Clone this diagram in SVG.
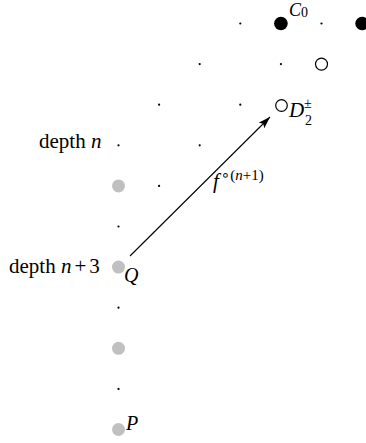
<svg xmlns="http://www.w3.org/2000/svg" width="366" height="443" viewBox="0 0 366 443">
<style>
.t{font-family:"Liberation Serif","DejaVu Serif",serif;fill:#000}
.i{font-style:italic}
.dot{fill:#000}
.blk{fill:#000}
.gry{fill:#c0c0c0}
.opn{fill:#fff;stroke:#000;stroke-width:1.2}
.ln{stroke:#000;stroke-width:1.1;fill:none}
</style>
<defs>
<marker id="ah" viewBox="0 0 12 8" refX="12" refY="4" markerWidth="12" markerHeight="8" markerUnits="userSpaceOnUse" orient="auto">
<path d="M0,0 L12,4 L0,8 L2.5,4 Z" fill="#000"/>
</marker>
</defs>
<rect width="366" height="443" fill="#fff"/>
<g id="dots">
<circle class="dot" cx="240.3" cy="23.5" r="1.1"/>
<circle class="dot" cx="321.5" cy="23.5" r="1.1"/>
<circle class="dot" cx="199.7" cy="64.1" r="1.1"/>
<circle class="dot" cx="280.9" cy="64.1" r="1.1"/>
<circle class="dot" cx="159.1" cy="104.7" r="1.1"/>
<circle class="dot" cx="240.3" cy="104.7" r="1.1"/>
<circle class="dot" cx="118.5" cy="145.3" r="1.1"/>
<circle class="dot" cx="199.7" cy="145.3" r="1.1"/>
<circle class="dot" cx="159.1" cy="185.9" r="1.1"/>
<circle class="dot" cx="118.5" cy="226.5" r="1.1"/>
<circle class="dot" cx="118.5" cy="307.7" r="1.1"/>
<circle class="dot" cx="118.5" cy="388.9" r="1.1"/>
</g>
<g id="C0">
<circle class="blk" cx="280.9" cy="23.5" r="6.8"/>
<circle class="blk" cx="362.1" cy="23.5" r="6.8"/>
<text class="t" x="289" y="16" font-size="18"><tspan class="i">C</tspan><tspan font-size="14" dy="1">0</tspan></text>
</g>
<g id="open1">
<circle class="opn" cx="321.5" cy="64.1" r="6"/>
</g>
<g id="D2">
<circle class="opn" cx="281.5" cy="105.5" r="5.8"/>
<text class="t i" x="289" y="117" font-size="21">D</text>
<text class="t" x="304" y="108" font-size="14">±</text>
<text class="t" x="305" y="125" font-size="14">2</text>
</g>
<g id="depthn">
<text class="t" x="39" y="148" font-size="21">depth <tspan class="i">n</tspan></text>
</g>
<g id="gray">
<circle class="gry" cx="118.5" cy="185.9" r="6.5"/>
<circle class="gry" cx="118.5" cy="348.3" r="6.5"/>
</g>
<g id="Q">
<circle class="gry" cx="118.5" cy="267.1" r="6.5"/>
<text class="t" x="9" y="273" font-size="21">depth <tspan class="i">n</tspan><tspan dx="3">+</tspan><tspan dx="3">3</tspan></text>
<text class="t i" x="124" y="282" font-size="20">Q</text>
</g>
<g id="P">
<circle class="gry" cx="118.5" cy="429.5" r="6.5"/>
<text class="t i" x="126" y="430" font-size="20">P</text>
</g>
<g id="connectors">
<line class="ln" x1="130" y1="256" x2="270" y2="117" marker-end="url(#ah)"/>
<text class="t" x="213" y="188" font-size="21"><tspan class="i">f</tspan><tspan font-size="15" dy="-8" dx="2" font-family="DejaVu Sans">∘</tspan><tspan font-size="15">(<tspan class="i">n</tspan>+1)</tspan></text>
</g>
</svg>
